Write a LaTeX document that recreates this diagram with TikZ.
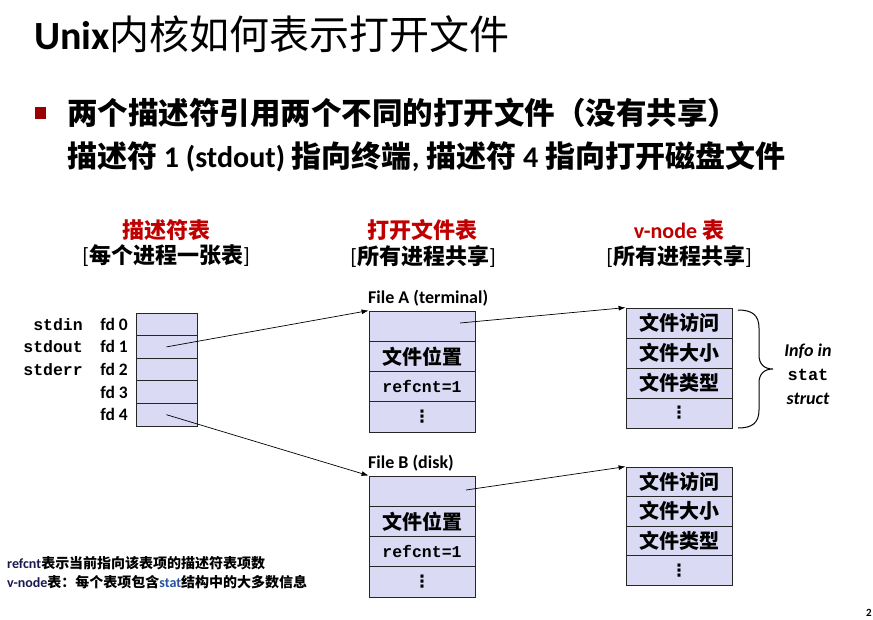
\documentclass[tikz,border=0pt]{standalone}
\usepackage{fontspec}
\setmainfont{Carlito}
\setmonofont{Liberation Mono}
\newfontfamily\cjk{Noto Sans CJK SC}
\newfontfamily\djv{DejaVu Sans}
\usetikzlibrary{arrows.meta}
\definecolor{cellfill}{RGB}{218,218,245}
\definecolor{hdrred}{RGB}{192,0,0}
\definecolor{bulletred}{RGB}{153,0,0}
\definecolor{navytxt}{RGB}{25,25,80}
\definecolor{stattxt}{RGB}{40,80,160}
\newcommand{\fsz}[1]{\fontsize{#1}{#1}\selectfont}
\begin{document}
\begin{tikzpicture}[x=1pt,y=-1pt,
  cell/.style={draw=black!85, line width=0.8pt, fill=cellfill, inner sep=0pt, anchor=center},
  fdcell/.style={cell, minimum width=61pt, minimum height=22.6pt},
  fcell/.style={cell, minimum width=106pt, minimum height=30.25pt},
  vcell/.style={cell, minimum width=106pt, minimum height=30pt},
  vcellb/.style={cell, minimum width=106pt, minimum height=29.5pt},
  celltxt/.style={font=\cjk\bfseries\fsz{20}},
  monotxt/.style={font=\ttfamily\bfseries\fsz{16.5}},
  dotstxt/.style={font=\djv\bfseries\fsz{17}},
  fdtxt/.style={font=\bfseries\fsz{17.5}, anchor=east, inner sep=0pt},
  stdtxt/.style={font=\ttfamily\bfseries\fsz{16.5}, anchor=east, inner sep=0pt},
  hdr/.style={font=\cjk\bfseries\fsz{22}, text=hdrred, inner sep=0pt},
  sub/.style={font=\cjk\bfseries\fsz{22}, inner sep=0pt},
  flabel/.style={font=\bfseries\fsz{18}, anchor=west, inner sep=0pt},
  note/.style={font=\bfseries\fsz{14}, anchor=west, inner sep=0pt},
  ptr/.style={line width=0.7pt, -{Latex[length=7pt,width=5pt]}},
]
\useasboundingbox (0,0) rectangle (873,619);

% title
\node[anchor=west, inner sep=0pt, font=\fsz{40}] (title) at (34,34)
  {{\bfseries Unix}{\cjk 内核如何表示打开文件}};

% bullet
\node[fill=bulletred, minimum width=11pt, minimum height=12pt, inner sep=0pt] (bul) at (40.5,113) {};
\node[anchor=west, inner sep=0pt, font=\cjk\bfseries\fsz{30.5}] (b1) at (67,113)
  {两个描述符引用两个不同的打开文件（没有共享）};
\node[anchor=west, inner sep=0pt, font=\bfseries\fsz{30}] (b2) at (67,157)
  {{\cjk 描述符} 1 (stdout) {\cjk 指向终端}, {\cjk 描述符} 4 {\cjk 指向打开磁盘文件}};

% headers
\node[hdr] (h1) at (166,230) {描述符表};
\node[sub] (s1) at (166,256) {{\rmfamily\mdseries [}每个进程一张表{\rmfamily\mdseries ]}};
\node[hdr] (h2) at (422,230) {打开文件表};
\node[sub] (s2) at (423,256) {{\rmfamily\mdseries [}所有进程共享{\rmfamily\mdseries ]}};
\node[hdr] (h3) at (679,230) {{\rmfamily v-node }表};
\node[sub] (s3) at (679,256) {{\rmfamily\mdseries [}所有进程共享{\rmfamily\mdseries ]}};

% descriptor table
\node[fdcell] (d0) at (166.5,324.3) {};
\node[fdcell] (d1) at (166.5,346.9) {};
\node[fdcell] (d2) at (166.5,369.5) {};
\node[fdcell] (d3) at (166.5,392.1) {};
\node[fdcell] (d4) at (166.5,414.7) {};
\foreach \i in {0,...,4} {
  \node[fdtxt] (fd\i) at (128,324.3+22.6*\i) {fd \i};
}
\node[stdtxt] (sin) at (83,324.3) {stdin};
\node[stdtxt] (sout) at (83,346.9) {stdout};
\node[stdtxt] (serr) at (83,369.5) {stderr};

% open file table A
\node[flabel] (fAl) at (368,298) {File A (terminal)};
\node[fcell] (fA0) at (422,326.1) {};
\node[fcell, celltxt] (fA1) at (422,356.4) {文件位置};
\node[fcell, monotxt] (fA2) at (422,386.6) {refcnt=1};
\node[fcell, dotstxt, text width=100pt, align=center] (fA3) at (422,416.9) {⋮};

% open file table B
\node[flabel] (fBl) at (368,463) {File B (disk)};
\node[fcell] (fB0) at (422,491.1) {};
\node[fcell, celltxt] (fB1) at (422,521.4) {文件位置};
\node[fcell, monotxt] (fB2) at (422,551.6) {refcnt=1};
\node[fcell, dotstxt, text width=100pt, align=center] (fB3) at (422,581.9) {⋮};

% v-node A
\node[vcell, celltxt] (vA0) at (679,323) {文件访问};
\node[vcell, celltxt] (vA1) at (679,353) {文件大小};
\node[vcell, celltxt] (vA2) at (679,383) {文件类型};
\node[vcell, dotstxt] (vA3) at (679,413) {⋮};

% v-node B
\node[vcellb, celltxt] (vB0) at (679,481.75) {文件访问};
\node[vcellb, celltxt] (vB1) at (679,511.25) {文件大小};
\node[vcellb, celltxt] (vB2) at (679,540.75) {文件类型};
\node[vcellb, dotstxt] (vB3) at (679,570.25) {⋮};

% brace
\draw[line width=1pt] (738,310) .. controls (752,310) and (759,315) .. (759,328)
  -- (759,355) .. controls (759,364) and (764,369) .. (773,369)
  .. controls (764,369) and (759,374) .. (759,383)
  -- (759,410) .. controls (759,423) and (752,428) .. (738,428);
\node[font=\bfseries\itshape\fsz{18}, inner sep=0pt] (info1) at (808,351) {Info in};
\node[font=\ttfamily\bfseries\fsz{17}, inner sep=0pt] (info2) at (808,375) {stat};
\node[font=\bfseries\itshape\fsz{18}, inner sep=0pt] (info3) at (808,399) {struct};

% pointers
\draw[ptr] (d1.center) -- (fA0.north west);
\draw[ptr] (d4.center) -- (fB0.north west);
\coordinate (pA) at (460,323);
\coordinate (pB) at (466,490);
\draw[ptr] (pA) -- (vA0.north west);
\draw[ptr] (pB) -- (vB0.north west);

% notes
\node[note] (n1) at (7,563) {{\color{navytxt}refcnt}{\cjk 表示当前指向该表项的描述符表项数}};
\node[note] (n2) at (7,582) {{\color{navytxt}v-node}{\cjk 表：每个表项包含}{\color{stattxt}stat}{\cjk 结构中的大多数信息}};

% page number
\node[anchor=west, inner sep=0pt, font=\bfseries\fsz{11}] (pg) at (866,613) {2};
\end{tikzpicture}
\end{document}
